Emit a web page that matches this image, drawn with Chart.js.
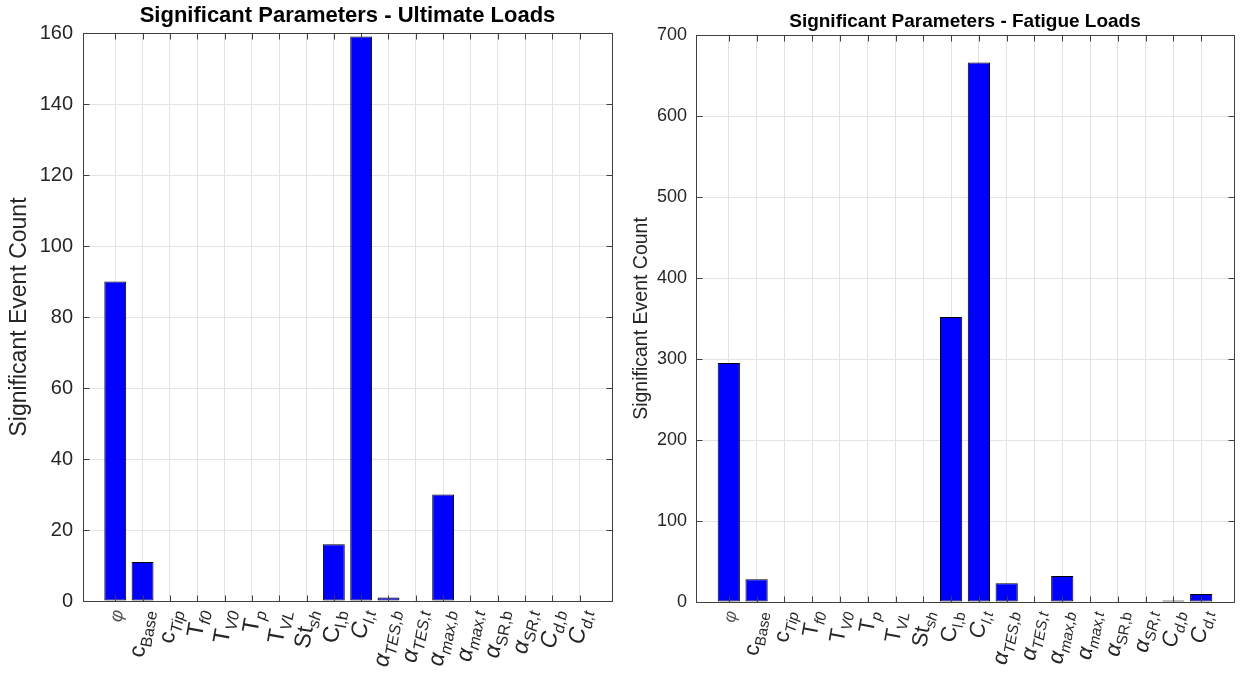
<!DOCTYPE html>
<html>
<head>
<meta charset="utf-8">
<title>Significant Parameters</title>
<script src="https://cdn.jsdelivr.net/npm/chart.js@4.4.1/dist/chart.umd.min.js"></script>
<style>
    body { margin: 0; background: #fff; }
    #wrap { position: relative; width: 1243px; height: 674px; }
    #wrap canvas { position: absolute; top: 0; }
</style>
</head>
<body>
<div id="wrap">
    <canvas id="ultimateChart" width="621" height="674" style="left:0"></canvas>
    <canvas id="fatigueChart" width="622" height="674" style="left:621px"></canvas>
</div>
<script>
// --------------------------------------------------------------------------
// DATA
// --------------------------------------------------------------------------
const paramMain = ['φ', 'c', 'c', 'T', 'T', 'T', 'T', 'St', 'C', 'C', 'α', 'α', 'α', 'α', 'α', 'α', 'C', 'C'];
const paramSub = ['', 'Base', 'Tip', 'f0', 'V0', 'p', 'VL', 'sh', 'l,b', 'l,t', 'TES,b', 'TES,t', 'max,b', 'max,t', 'SR,b', 'SR,t', 'd,b', 'd,t'];
const mainItalic = [true, false, false, false, false, false, false, false, false, true, true, true, true, true, true, true, true, true];
const subItalic = [false, false, true, true, true, true, true, true, false, true, true, true, true, true, false, true, true, true];

const ultimateCounts = [90, 11, 0, 0, 0, 0, 0, 0, 16, 159, 1, 0, 30, 0, 0, 0, 0, 0];
const fatigueCounts = [295, 28, 0, 0, 0, 0, 0, 0, 352, 666, 23, 0, 32, 0, 0, 0, 2, 10];

const ultimateTicks = [0, 20, 40, 60, 80, 100, 120, 140, 160];
const fatigueTicks = [0, 100, 200, 300, 400, 500, 600, 700];

const FONT = '"Liberation Sans", Arial, Helvetica, sans-serif';
const TEXT = '#262626';

// --------------------------------------------------------------------------
// MATLAB-like axes: box, inward ticks, title, rotated tick labels with subscripts
// --------------------------------------------------------------------------
function drawParamLabel(ctx, x, y, i, g) {
    // lone symbols (phi) are set a bit smaller, like the TeX symbol font
    const mainSize = paramSub[i] ? g.xFont : g.xFont * 0.8;
    const mainFont = (mainItalic[i] ? 'italic ' : '') + mainSize + 'px ' + FONT;
    const subFont = (subItalic[i] ? 'italic ' : '') + g.xSubFont + 'px ' + FONT;
    ctx.font = subFont;
    const ws = paramSub[i] ? ctx.measureText(paramSub[i]).width : 0;
    ctx.font = mainFont;
    const wm = ctx.measureText(paramMain[i]).width;
    ctx.save();
    ctx.translate(x, y);
    ctx.rotate(-80 * Math.PI / 180);
    ctx.fillStyle = paramSub[i] ? TEXT : '#555';
    ctx.textAlign = 'left';
    ctx.textBaseline = 'middle';
    ctx.fillText(paramMain[i], -(wm + ws), 0);
    if (paramSub[i]) {
        ctx.font = subFont;
        ctx.fillText(paramSub[i], -ws, g.xFont * 0.33);
    }
    ctx.restore();
}

const matlabAxes = {
    id: 'matlabAxes',
    afterDraw(chart, args, opts) {
        const ctx = chart.ctx;
        const ca = chart.chartArea;
        const xs = chart.scales.x;
        const ys = chart.scales.y;
        const g = opts.geom;
        const L = Math.round(ca.left) + 0.5, R = Math.round(ca.right) + 0.5;
        const T = Math.round(ca.top) + 0.5, B = Math.round(ca.bottom) + 0.5;
        ctx.save();
        ctx.strokeStyle = '#404040';
        ctx.lineWidth = 1;
        ctx.beginPath();
        xs.ticks.forEach(t => {
            const px = Math.round(xs.getPixelForValue(t.value)) + 0.5;
            ctx.moveTo(px, B); ctx.lineTo(px, B - 6);
            ctx.moveTo(px, T); ctx.lineTo(px, T + 6);
        });
        ys.ticks.forEach(t => {
            const py = Math.round(ys.getPixelForValue(t.value)) + 0.5;
            ctx.moveTo(L, py); ctx.lineTo(L + 6, py);
            ctx.moveTo(R, py); ctx.lineTo(R - 6, py);
        });
        ctx.stroke();
        ctx.strokeRect(L, T, R - L, B - T);

        // title centred over the axes
        ctx.fillStyle = '#000';
        ctx.font = 'bold ' + g.titleFont + 'px ' + FONT;
        ctx.textAlign = 'center';
        ctx.textBaseline = 'alphabetic';
        ctx.fillText(opts.title, (ca.left + ca.right) / 2, g.titleY);

        // parameter names
        paramMain.forEach((_, i) => {
            drawParamLabel(ctx, xs.getPixelForValue(i + 1) + 3, ca.bottom + 9, i, g);
        });
        ctx.restore();
    }
};

function buildChart(canvasId, title, counts, yTicks, g) {
    const yMax = yTicks[yTicks.length - 1];
    return new Chart(document.getElementById(canvasId), {
        type: 'bar',
        data: {
            datasets: [{
                data: counts.map((v, i) => ({ x: i + 1, y: v })),
                backgroundColor: '#0000ff',
                borderColor: '#000',
                borderWidth: 1,
                borderSkipped: false,
                barPercentage: 0.8,
                categoryPercentage: 1
            }]
        },
        options: {
            responsive: false,
            animation: false,
            layout: { padding: { top: g.top, right: g.right, left: 0, bottom: 0 } },
            plugins: {
                legend: { display: false },
                tooltip: { enabled: false },
                matlabAxes: { title, geom: g }
            },
            scales: {
                x: {
                    type: 'linear',
                    offset: false,
                    min: -0.18,
                    max: paramMain.length + 1.18,
                    afterBuildTicks: (s) => { s.ticks = paramMain.map((_, i) => ({ value: i + 1 })); },
                    afterFit: (s) => { s.height = g.bottom; },
                    ticks: { display: false },
                    grid: { color: '#e3e3e3', drawTicks: false, offset: false },
                    border: { display: false }
                },
                y: {
                    min: 0,
                    max: yMax,
                    afterBuildTicks: (s) => { s.ticks = yTicks.map(v => ({ value: v })); },
                    afterFit: (s) => { s.width = g.left; },
                    ticks: { color: TEXT, padding: g.tickPad, font: { family: FONT, size: g.tickFont } },
                    grid: { color: '#e3e3e3', drawTicks: false },
                    border: { display: false },
                    title: {
                        display: true,
                        text: 'Significant Event Count',
                        color: TEXT,
                        font: { family: FONT, size: g.labelFont, lineHeight: 1 },
                        padding: { top: g.labelX - g.labelFont / 2, bottom: 0 }
                    }
                }
            }
        },
        plugins: [matlabAxes]
    });
}

buildChart('ultimateChart', 'Significant Parameters - Ultimate Loads', ultimateCounts, ultimateTicks, {
    left: 83, top: 33, right: 9, bottom: 73,
    tickFont: 20, tickPad: 10, labelFont: 23, labelX: 20,
    titleFont: 22, titleY: 22, xFont: 23, xSubFont: 16
});

buildChart('fatigueChart', 'Significant Parameters - Fatigue Loads', fatigueCounts, fatigueTicks, {
    left: 75, top: 35, right: 9, bottom: 72,
    tickFont: 18, tickPad: 9, labelFont: 19.5, labelX: 21,
    titleFont: 19, titleY: 27, xFont: 22, xSubFont: 15
});
</script>
</body>
</html>
